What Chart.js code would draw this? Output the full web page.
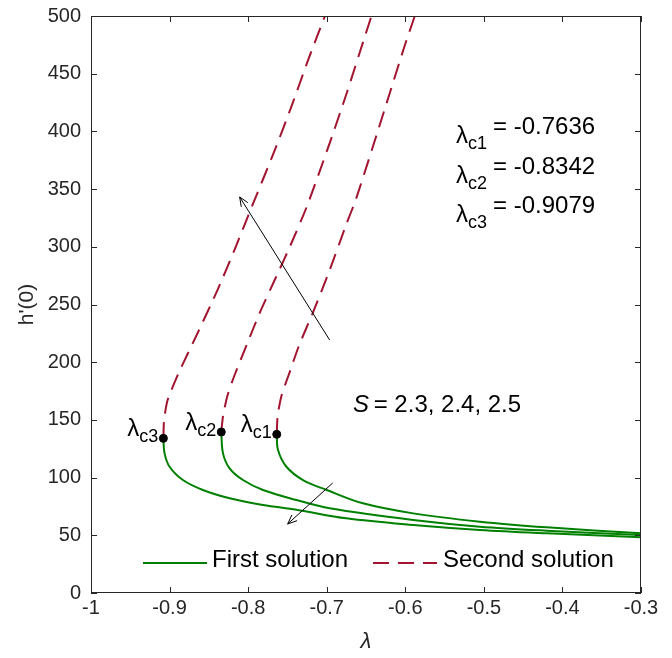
<!DOCTYPE html>
<html>
<head>
<meta charset="utf-8">
<script src="https://cdn.jsdelivr.net/npm/chart.js@4.4.1/dist/chart.umd.min.js"></script>
<style>
  html, body { margin: 0; padding: 0; background: #fff; }
</style>
</head>
<body>
<canvas id="myChart" width="672" height="658"></canvas>
<script>
// critical points (lambda_c, h'(0))
const critLambda = [-0.7636, -0.8342, -0.9079];
const critH = [137.5, 139.5, 134];
const critNames = ['c1', 'c2', 'c3'];

// first solution (solid green), S = 2.5, 2.4, 2.3
const first1X = [-0.7636, -0.762, -0.7513, -0.7302, -0.700, -0.6538, -0.59, -0.5051, -0.42, -0.3];
const first1Y = [137.5, 123.9, 109.4, 97.9, 89.3, 77.7, 69.0, 61.8, 56.9, 51.7];
const first2X = [-0.8342, -0.832, -0.8236, -0.8066, -0.7811, -0.7386, -0.6962, -0.59, -0.5051, -0.42, -0.3];
const first2Y = [139.5, 121, 108, 97.9, 89.3, 80.6, 73.4, 63.3, 57.5, 54.0, 50.3];
const first3X = [-0.9079, -0.9064, -0.900, -0.883, -0.8576, -0.8236, -0.7811, -0.7386, -0.675, -0.59, -0.5051, -0.42, -0.3];
const first3Y = [134, 121, 109.4, 97.9, 89.3, 82.1, 76.3, 72.2, 64.7, 58.9, 54.6, 51.7, 48.3];

// second solution (dashed red)
const second1X = [-0.7636, -0.7624, -0.7573, -0.7484, -0.7350, -0.7178, -0.6962, -0.6745, -0.6631, -0.6414, -0.6197, -0.6013, -0.5879];
const second1Y = [137.5, 154.2, 171.6, 188.9, 214.9, 242.6, 279.9, 320.6, 340.6, 386.5, 433.3, 473.1, 500];
const second2X = [-0.8342, -0.8318, -0.8261, -0.8172, -0.8019, -0.7854, -0.7662, -0.7471, -0.7255, -0.6962, -0.6745, -0.6529, -0.643];
const second2Y = [139.5, 154.2, 171.6, 188.9, 214.9, 242.6, 271.2, 299.8, 334.5, 389.9, 433.3, 479.2, 500];
const second3X = [-0.9079, -0.9070, -0.9025, -0.8885, -0.8643, -0.8389, -0.8159, -0.7955, -0.7675, -0.7452, -0.7236, -0.7023];
const second3Y = [134, 149.9, 167.2, 190.6, 225.3, 262.6, 299.8, 334.5, 381.3, 421.1, 461.9, 500];

// arrows: [fromX, fromY, toX, toY]
const arrowUp = [-0.6962, 219.2, -0.8108, 343.2];
const arrowDown = [-0.6924, 95.3, -0.7497, 59.8];

const xTicks = [-1, -0.9, -0.8, -0.7, -0.6, -0.5, -0.4, -0.3];
const yTicks = [0, 50, 100, 150, 200, 250, 300, 350, 400, 450, 500];

const solvedText = ['= -0.7636', '= -0.8342', '= -0.9079'];
const sText = '= 2.3, 2.4, 2.5';

const GREEN = '#008000';
const RED = '#A2142F';
const AXIS = '#262626';

const pts = (xs, ys) => xs.map((x, i) => ({ x: x, y: ys[i] }));

const solid = (xs, ys) => ({
    data: pts(xs, ys), showLine: true, borderColor: GREEN, borderWidth: 2,
    pointRadius: 0, tension: 0.35, order: 1
});
const dashed = (xs, ys) => ({
    data: pts(xs, ys), showLine: true, borderColor: RED, borderWidth: 2,
    borderDash: [16, 9], pointRadius: 0, tension: 0.2, order: 1
});

function drawArrow(ctx, sx, sy, a) {
    const x0 = sx.getPixelForValue(a[0]), y0 = sy.getPixelForValue(a[1]);
    const x1 = sx.getPixelForValue(a[2]), y1 = sy.getPixelForValue(a[3]);
    const ang = Math.atan2(y1 - y0, x1 - x0);
    ctx.strokeStyle = '#000';
    ctx.lineWidth = 1;
    ctx.beginPath();
    ctx.moveTo(x0, y0);
    ctx.lineTo(x1, y1);
    ctx.stroke();
    ctx.beginPath();
    ctx.moveTo(x1 - 10 * Math.cos(ang - 0.4), y1 - 10 * Math.sin(ang - 0.4));
    ctx.lineTo(x1, y1);
    ctx.lineTo(x1 - 10 * Math.cos(ang + 0.4), y1 - 10 * Math.sin(ang + 0.4));
    ctx.stroke();
}

// lambda with subscript, right edge or left start
function lambdaSub(ctx, x, y, sub, alignRight) {
    ctx.font = '24px "Liberation Sans", Arial, sans-serif';
    const wl = ctx.measureText('λ').width;
    ctx.font = '18px "Liberation Sans", Arial, sans-serif';
    const ws = ctx.measureText(sub).width;
    let left = alignRight ? x - wl - ws : x;
    ctx.textAlign = 'left';
    ctx.textBaseline = 'alphabetic';
    ctx.fillStyle = '#000';
    ctx.font = '24px "Liberation Sans", Arial, sans-serif';
    ctx.fillText('λ', left, y);
    ctx.font = '18px "Liberation Sans", Arial, sans-serif';
    ctx.fillText(sub, left + wl, y + 6);
    return left + wl + ws;
}

const extras = {
    id: 'extras',
    afterDraw(chart) {
        const ctx = chart.ctx;
        const a = chart.chartArea;
        const sx = chart.scales.x, sy = chart.scales.y;
        ctx.save();

        // box + inward ticks on all sides
        ctx.strokeStyle = AXIS;
        ctx.lineWidth = 1;
        ctx.strokeRect(a.left + 0.5, a.top + 0.5, a.right - a.left - 1, a.bottom - a.top - 1);
        ctx.beginPath();
        xTicks.forEach(v => {
            const px = Math.round(sx.getPixelForValue(v)) + 0.5;
            ctx.moveTo(px, a.bottom); ctx.lineTo(px, a.bottom - 6);
            ctx.moveTo(px, a.top); ctx.lineTo(px, a.top + 6);
        });
        yTicks.forEach(v => {
            const py = Math.round(sy.getPixelForValue(v)) + 0.5;
            ctx.moveTo(a.left, py); ctx.lineTo(a.left + 6, py);
            ctx.moveTo(a.right, py); ctx.lineTo(a.right - 6, py);
        });
        ctx.stroke();

        // arrows
        drawArrow(ctx, sx, sy, arrowUp);
        drawArrow(ctx, sx, sy, arrowDown);

        // labels next to critical points
        critLambda.forEach((l, i) => {
            const px = sx.getPixelForValue(l), py = sy.getPixelForValue(critH[i]);
            lambdaSub(ctx, px - 5, py - 2, critNames[i], true);
        });

        // values of lambda_c
        solvedText.forEach((t, i) => {
            const base = 134 + i * 39.5;
            const end = lambdaSub(ctx, 456, base + 9, critNames[i], false);
            ctx.font = '24px "Liberation Sans", Arial, sans-serif';
            ctx.fillText(t, end + 6, base);
        });

        // S label
        ctx.font = 'italic 24px "Liberation Sans", Arial, sans-serif';
        ctx.fillText('S', 353, 412);
        const ws = ctx.measureText('S').width;
        ctx.font = '24px "Liberation Sans", Arial, sans-serif';
        ctx.fillText(' ' + sText, 353 + ws - 2, 412);

        // legend
        ctx.lineWidth = 2;
        ctx.strokeStyle = GREEN;
        ctx.beginPath(); ctx.moveTo(143, 563); ctx.lineTo(207, 563); ctx.stroke();
        ctx.strokeStyle = RED;
        ctx.setLineDash([16, 9]);
        ctx.beginPath(); ctx.moveTo(373, 563); ctx.lineTo(437, 563); ctx.stroke();
        ctx.setLineDash([]);
        ctx.fillStyle = '#000';
        ctx.font = '24px "Liberation Sans", Arial, sans-serif';
        ctx.fillText('First solution', 212, 567);
        ctx.fillText('Second solution', 443, 567);

        ctx.restore();
    }
};

const ctx = document.getElementById('myChart').getContext('2d');
const chart = new Chart(ctx, {
    type: 'scatter',
    data: {
        datasets: [
            {
                data: pts(critLambda, critH), pointRadius: 4, pointBackgroundColor: '#000',
                pointBorderColor: '#000', showLine: false, order: 0
            },
            solid(first1X, first1Y), solid(first2X, first2Y), solid(first3X, first3Y),
            dashed(second1X, second1Y), dashed(second2X, second2Y), dashed(second3X, second3Y)
        ]
    },
    options: {
        responsive: false,
        animation: false,
        devicePixelRatio: 1,
        layout: { padding: { top: 16, right: 31, left: 0, bottom: 0 } },
        plugins: { legend: { display: false }, tooltip: { enabled: false } },
        scales: {
            x: {
                type: 'linear', min: -1, max: -0.3,
                afterFit(s) { s.height = 65; s.paddingLeft = 0; s.paddingRight = 0; },
                afterBuildTicks(s) { s.ticks = xTicks.map(v => ({ value: v })); },
                grid: { display: false, drawTicks: false },
                border: { display: false },
                ticks: {
                    color: AXIS, padding: 3, maxRotation: 0,
                    font: { size: 20, family: '"Liberation Sans", Arial, sans-serif' },
                    callback: v => String(Math.round(v * 10) / 10)
                },
                title: {
                    display: true, text: 'λ', color: AXIS,
                    font: { size: 22, style: 'italic', family: '"Liberation Sans", Arial, sans-serif' },
                    padding: { top: 3, bottom: 3 }
                }
            },
            y: {
                type: 'linear', min: 0, max: 500,
                afterFit(s) { s.width = 91; s.paddingTop = 0; s.paddingBottom = 0; },
                afterBuildTicks(s) { s.ticks = yTicks.map(v => ({ value: v })); },
                grid: { display: false, drawTicks: false },
                border: { display: false },
                ticks: {
                    color: AXIS, padding: 10,
                    font: { size: 20, family: '"Liberation Sans", Arial, sans-serif' }
                },
                title: {
                    display: true, text: "h'(0)", color: AXIS,
                    font: { size: 21, family: '"Liberation Sans", Arial, sans-serif' },
                    padding: { top: 15, bottom: 0 }
                }
            }
        }
    },
    plugins: [extras]
});
</script>
</body>
</html>
